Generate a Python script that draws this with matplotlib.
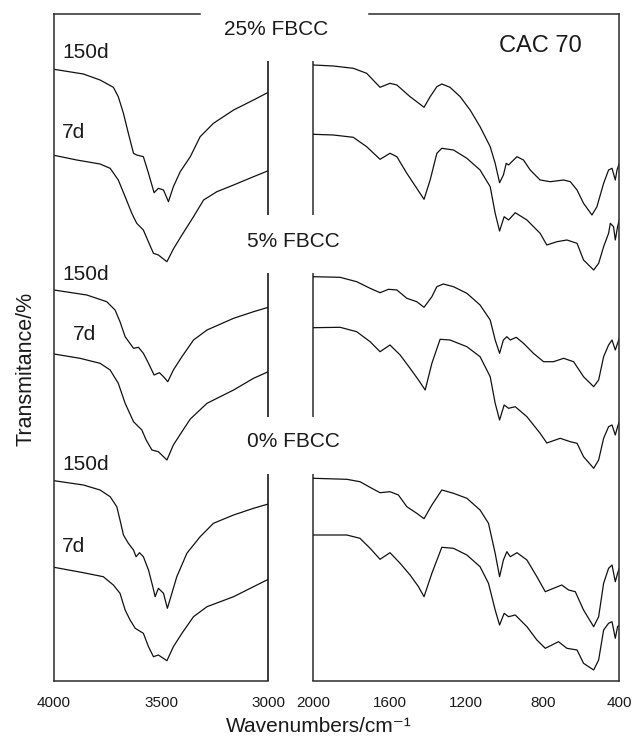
import matplotlib
matplotlib.use("Agg")
import matplotlib.pyplot as plt

plt.rcParams["font.family"] = ["Liberation Sans", "DejaVu Sans"]

# ---------------- data (wavenumber cm-1, transmittance in arbitrary stacked units) -------------
# Left panel (4000-3000 cm-1)
wn_L_25_150 = [4000, 3863, 3785, 3723, 3700, 3676, 3653, 3629, 3614, 3583, 3559, 3533, 3513, 3489,
               3466, 3443, 3411, 3364, 3318, 3256, 3162, 3069, 3000]
T_L_25_150 = [611.7, 607, 601, 593.7, 584.3, 567.7, 547.7, 527.7, 526, 524.3, 507.7, 488.3, 492.7, 491,
              479.3, 494.3, 509.3, 524.3, 544.3, 557.7, 571, 581, 588.7]
wn_L_25_7 = [4000, 3894, 3785, 3738, 3700, 3668, 3637, 3614, 3583, 3559, 3536, 3513, 3473, 3443, 3403,
             3349, 3302, 3240, 3162, 3069, 3000]
T_L_25_7 = [525.7, 521, 517, 512.7, 501, 484.3, 467.7, 457.7, 451, 439, 427.7, 426, 419.3, 432, 446,
            464.3, 481, 489.3, 496, 504.3, 510.3]

wn_L_5_150 = [4000, 3847, 3754, 3715, 3692, 3668, 3629, 3606, 3583, 3559, 3533, 3508, 3489, 3469, 3443,
              3403, 3349, 3286, 3162, 3069, 3000]
T_L_5_150 = [391, 386, 379.3, 371, 359.3, 344.3, 332.7, 333.7, 327.7, 317.7, 306, 308.3, 304.3, 299.3, 311,
             324.3, 341, 351, 362.7, 369.3, 373.7]
wn_L_5_7 = [4000, 3879, 3785, 3738, 3700, 3668, 3629, 3590, 3570, 3543, 3513, 3473, 3443, 3403, 3364,
            3286, 3162, 3069, 3000]
T_L_5_7 = [327, 322.7, 317.7, 311, 297.7, 277.7, 259.3, 251, 241, 231, 229.3, 221, 236, 249.3, 262,
           277.7, 291, 302.7, 309.3]

wn_L_0_150 = [4000, 3863, 3785, 3738, 3707, 3692, 3676, 3653, 3629, 3617, 3601, 3583, 3559, 3539, 3528,
              3513, 3489, 3471, 3450, 3427, 3380, 3318, 3256, 3162, 3069, 3000]
T_L_0_150 = [200.3, 196, 191, 184.3, 174.3, 161, 146, 137.7, 131, 124.3, 128.3, 124.3, 111, 94.3, 84.3,
             92.7, 87.7, 72.7, 87.7, 104.3, 127.7, 144.3, 157.7, 166, 172.7, 177]
wn_L_0_7 = [4000, 3863, 3770, 3723, 3692, 3668, 3645, 3621, 3583, 3559, 3536, 3513, 3473, 3443, 3403,
            3349, 3286, 3162, 3069, 3000]
T_L_0_7 = [113.7, 108.3, 104.3, 96, 87.7, 71, 61, 52.7, 47.7, 34.3, 24.3, 26, 20.3, 34.3, 47.7,
           64.3, 74.3, 84.3, 94.3, 101.7]

# Right panel (2000-400 cm-1)
wn_R_25_150 = [2000, 1895, 1791, 1721, 1651, 1599, 1563, 1494, 1459, 1421, 1389, 1354, 1328, 1285, 1232,
               1180, 1128, 1075, 1049, 1026, 1006, 991, 979, 962, 935, 901, 866, 814, 761, 691, 656,
               621, 587, 543, 517, 482, 456, 438, 421, 412, 400]
T_R_25_150 = [616, 615, 612.7, 607.7, 593.7, 597.7, 596, 584.3, 579.3, 573.7, 584.3, 594.3, 597, 593.7,
              584.3, 571, 554.3, 534.3, 517.7, 498.3, 506, 517.7, 516, 519.3, 524.3, 521, 511, 501,
              499.3, 501, 499.3, 491, 477.7, 466, 474.3, 497.7, 511, 512.7, 501, 511, 517.7]
wn_R_25_7 = [2000, 1895, 1791, 1721, 1651, 1599, 1563, 1511, 1459, 1421, 1389, 1354, 1328, 1267, 1197,
             1128, 1075, 1049, 1026, 1002, 979, 944, 883, 814, 779, 726, 674, 621, 587, 534, 508,
             482, 456, 447, 430, 421, 409, 400]
T_R_25_7 = [546.7, 546, 543.7, 534.3, 521.7, 527.7, 524.3, 507.7, 492.7, 481.7, 501, 527.7, 532.7, 531,
            522.7, 511, 494.3, 467.7, 450, 464.3, 461, 468.3, 461, 447.7, 436, 439.3, 441, 437.7, 421,
            411, 417.7, 434.3, 447.7, 457.7, 454.3, 441, 454.3, 461]

wn_R_5_150 = [2000, 1860, 1773, 1703, 1651, 1607, 1563, 1511, 1459, 1421, 1380, 1354, 1320, 1267, 1197,
              1128, 1075, 1049, 1026, 1006, 988, 970, 939, 901, 849, 796, 744, 691, 639, 587, 534,
              508, 482, 456, 438, 421, 409, 400]
T_R_5_150 = [404.3, 403.7, 399.3, 392.7, 388.3, 391.7, 391, 382.7, 379.3, 373.7, 384.3, 394.3, 397, 394.3,
             387.7, 376, 361, 341, 327.7, 341, 344.3, 341, 343.7, 337.7, 327.7, 319.3, 319.3, 322.7,
             319.3, 304.3, 294.3, 301, 324.3, 336, 341, 331, 337.7, 342.7]
wn_R_5_7 = [2000, 1860, 1773, 1703, 1651, 1599, 1546, 1494, 1450, 1415, 1380, 1337, 1285, 1197, 1128,
            1075, 1049, 1026, 1002, 979, 944, 883, 814, 779, 709, 656, 621, 587, 534, 508, 482, 456,
            438, 421, 409, 400]
T_R_5_7 = [353.3, 353.7, 349.3, 339.3, 329.3, 336, 326, 312.7, 301, 291, 317.7, 341.7, 341, 334.3, 324.3,
           304.3, 277.7, 261, 276, 272.7, 274.3, 264.3, 247.7, 238, 242.7, 239.3, 237.7, 224.3, 212.7,
           221, 242.7, 254.3, 256, 246, 254.3, 259.3]

wn_R_0_150 = [2000, 1825, 1756, 1694, 1651, 1599, 1555, 1511, 1459, 1421, 1380, 1328, 1267, 1197, 1128,
              1084, 1049, 1026, 1006, 988, 970, 935, 883, 831, 787, 744, 701, 665, 630, 587, 534,
              508, 482, 456, 438, 421, 409, 400]
T_R_0_150 = [202.7, 201.7, 199.3, 192.7, 188.3, 189.3, 186, 174.3, 167.7, 162.3, 176, 191, 187.7, 182.7,
             171, 157.7, 127.7, 104.3, 121, 129.3, 124.3, 128.3, 121, 104.3, 89.3, 92.7, 96, 91, 89.3,
             71, 54.3, 64.3, 97.7, 112.7, 116, 99.3, 107.7, 112.7]
wn_R_0_7 = [2000, 1825, 1756, 1703, 1651, 1599, 1546, 1494, 1450, 1421, 1380, 1328, 1267, 1197, 1128,
            1084, 1049, 1026, 1002, 979, 944, 883, 831, 787, 718, 674, 621, 587, 534, 508, 482, 456,
            438, 421, 409, 400]
T_R_0_7 = [146, 146, 142.7, 132.7, 121.7, 128.3, 117.7, 106, 94.3, 84.3, 107.7, 133.7, 132.7, 126, 114.3,
           97.7, 71, 56, 67.7, 64.3, 66, 54.3, 41, 32.7, 39.3, 32.7, 31, 17.7, 11, 21, 51, 57.7, 59.3,
           42.7, 54.3, 56]

group_labels = ["25% FBCC", "5% FBCC", "0% FBCC"]
age_labels = ["150d", "7d"]
left_ticks = [4000, 3500, 3000]
right_ticks = [2000, 1600, 1200, 800, 400]

# ---------------- figure ----------------
W, H = 634, 739
fig = plt.figure(figsize=(W / 100, H / 100), dpi=100)


def rect(x0, x1, y0, y1):
    return [x0 / W, 1 - y1 / H, (x1 - x0) / W, (y1 - y0) / H]


axL = fig.add_axes(rect(54, 268.3, 14, 681))
axR = fig.add_axes(rect(313.3, 619.3, 14, 681))

spine_col = "#2b2b2b"
for ax in (axL, axR):
    ax.set_ylim(0, 667)
    ax.set_yticks([])
    for s in ax.spines.values():
        s.set_color(spine_col)
        s.set_linewidth(1.1)
    ax.tick_params(axis="x", length=0, pad=11, labelsize=11, colors="#1a1a1a")

axL.set_xlim(4000, 3000)
axR.set_xlim(2000, 400)
axL.set_xticks(left_ticks)
axR.set_xticks(right_ticks)
axL.spines["right"].set_visible(False)
axR.spines["left"].set_visible(False)
axL.spines["top"].set_bounds(4000, 3318)
axR.spines["top"].set_bounds(1708, 400)

# group frame segments at the break
seg_lo = [466, 264, 0]
seg_hi = [620, 408, 207]
axL.vlines([3000] * 3, seg_lo, seg_hi, color=spine_col, lw=1.3, clip_on=False)
axR.vlines([2000] * 3, seg_lo, seg_hi, color=spine_col, lw=1.1, clip_on=False)

lc = "#111111"
lw = 0.9
for x, y in [(wn_L_25_150, T_L_25_150), (wn_L_25_7, T_L_25_7), (wn_L_5_150, T_L_5_150),
             (wn_L_5_7, T_L_5_7), (wn_L_0_150, T_L_0_150), (wn_L_0_7, T_L_0_7)]:
    axL.plot(x, y, color=lc, lw=lw)
for x, y in [(wn_R_25_150, T_R_25_150), (wn_R_25_7, T_R_25_7), (wn_R_5_150, T_R_5_150),
             (wn_R_5_7, T_R_5_7), (wn_R_0_150, T_R_0_150), (wn_R_0_7, T_R_0_7)]:
    axR.plot(x, y, color=lc, lw=lw)

tc = "#1a1a1a"
# group labels
for lab, (cx, by) in zip(group_labels, [(275.8, 35), (293.3, 246.7), (293.3, 446.7)]):
    fig.text(cx / W, 1 - by / H, lab, ha="center", va="baseline", fontsize=15, color=tc)
fig.text(540 / W, 1 - 51.5 / H, "CAC 70", ha="center", va="baseline", fontsize=17, color=tc)

# age labels
for (x0, by), lab in zip([(62.3, 57.7), (62.3, 138.3), (62.3, 280), (73.3, 340), (62.3, 470),
                          (62.3, 551.7)], age_labels * 3):
    fig.text(x0 / W, 1 - by / H, lab, ha="left", va="baseline", fontsize=15, color=tc)

# axis labels
fig.text(318.5 / W, 1 - 732 / H, "Wavenumbers/cm\u207b\u00b9", ha="center", va="baseline",
         fontsize=15, color=tc)
fig.text(31.7 / W, 1 - 369 / H, "Transmitance/%", rotation=90, rotation_mode="anchor",
         ha="center", va="baseline", fontsize=15.5, color=tc)

fig.savefig("out.png", dpi=100)
